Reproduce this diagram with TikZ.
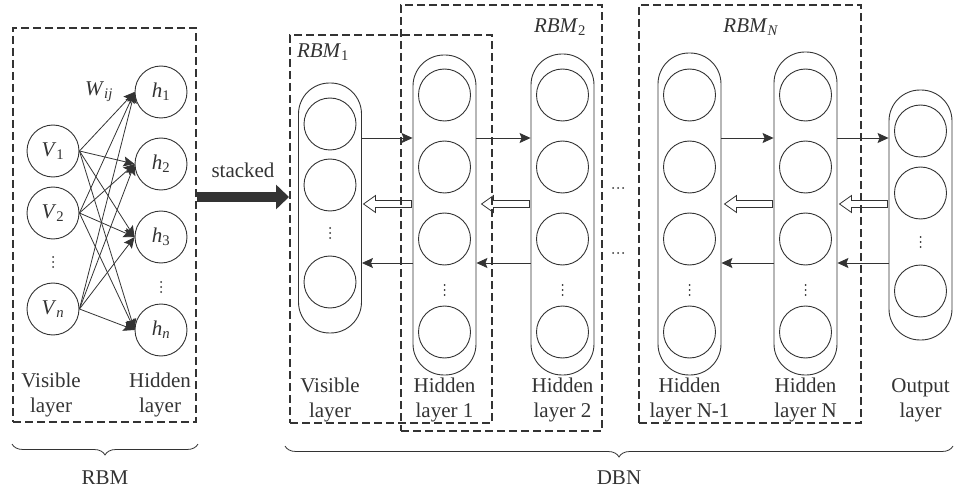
\documentclass[tikz,border=0pt]{standalone}
\usepackage{fontspec}
\setmainfont{Liberation Serif}
\usetikzlibrary{arrows.meta,decorations.pathreplacing}
\definecolor{ink}{HTML}{333333}
\newcommand\hollowfrom[1]{\draw[ink,line width=0.8pt] (#1) ++(-1,3.5) -- ++(-36,0) -- ++(0,5) -- ++(-12,-8.5) -- ++(12,-8.5) -- ++(0,5) -- ++(36,0) -- cycle;}
\newcommand\vdotsat[1]{\foreach \dd in {-5,0,5}{\fill[ink] (#1) ++(0,\dd) circle (1pt);}}
\newcommand\hdotsat[1]{\foreach \dd in {-5,0,5}{\fill[ink] (#1) ++(\dd,0) circle (1pt);}}
\begin{document}
\begin{tikzpicture}[x=1pt,y=-1pt,
  font=\fontsize{21}{25}\selectfont,
  neuron/.style={circle, draw=ink, line width=0.9pt, minimum size=52pt, inner sep=0pt, text=ink},
  pill/.style={draw=ink, line width=0.9pt, rounded corners=31pt, minimum width=63pt, inner sep=0pt},
  dbox/.style={draw=ink, line width=2pt, dash pattern=on 8pt off 4pt, inner sep=0pt},
  conn/.style={draw=ink, line width=0.8pt, -{Stealth[length=11pt,width=10pt,inset=2pt]}},
  lbl/.style={align=center, text=ink, inner sep=0pt},
  bracestyle/.style={draw=ink, line width=0.8pt, decorate, decoration={brace, mirror, amplitude=11pt}},
  stackarrow/.style={draw=ink, line width=10pt, -{Triangle[length=13pt,width=24pt]}}
]
\useasboundingbox (0,0) rectangle (954,492);

% ---------- RBM ----------
\node[dbox, minimum width=183pt, minimum height=394pt] (rbm) at (104.5,225) {};
\node[neuron] (V1) at (53,151) {\textit{V}\textsubscript{1}};
\node[neuron] (V2) at (53,213) {\textit{V}\textsubscript{2}};
\node[neuron] (Vn) at (53,309) {\textit{V}\textsubscript{\textit{n}}};
\coordinate (vd) at (53,262);
\vdotsat{vd}
\node[neuron] (h1) at (161,92) {\textit{h}\textsubscript{1}};
\node[neuron] (h2) at (161,164) {\textit{h}\textsubscript{2}};
\node[neuron] (h3) at (161,237) {\textit{h}\textsubscript{3}};
\node[neuron] (hn) at (161,330) {\textit{h}\textsubscript{\textit{n}}};
\coordinate (hd) at (161,287);
\vdotsat{hd}
\foreach \v in {V1,V2,Vn}{
  \foreach \h in {h1,h2,h3,hn}{
    \draw[conn] (\v.east) -- (\h.west);
  }
}
\node[lbl] (wij) at (99,92) {\textit{W}\textsubscript{\textit{ij}}};
\node[lbl] (rvis) at (51,395) {Visible\\layer};
\node[lbl] (rhid) at (160,395) {Hidden\\layer};

% ---------- stacked ----------
\coordinate (stk) at (0,197);
\node[lbl] (stacked) at (243,170) {stacked};

% ---------- DBN boxes ----------
\node[dbox, minimum width=202pt, minimum height=388pt] (rbm1) at (391,229) {};
\node[dbox, minimum width=201pt, minimum height=426pt] (rbm2) at (501.5,218) {};
\node[dbox, minimum width=222pt, minimum height=418pt] (rbmN) at (750,214) {};
\node[lbl] (l1) at (323,52) {\textit{RBM}\textsubscript{1}};
\node[lbl] (l2) at (560,27) {\textit{RBM}\textsubscript{2}};
\node[lbl] (lN) at (751,27) {\textit{RBM}\textsubscript{\textit{N}}};

\draw[stackarrow] (rbm.east |- stk) -- (rbm1.west |- stk);

% ---------- pills ----------
\node[pill, minimum height=250pt] (pv) at (330,208) {};
\node[pill, minimum height=320pt] (p1) at (444.5,215) {};
\node[pill, minimum height=321pt] (p2) at (562.5,214.5) {};
\node[pill, minimum height=322pt] (p3) at (689.5,214) {};
\node[pill, minimum height=323pt] (p4) at (805.5,213.5) {};
\node[pill, minimum height=250pt] (po) at (920.5,215) {};

% visible layer neurons
\node[neuron] (v1) at (330,124) {};
\node[neuron] (v2) at (330,185) {};
\node[neuron] (v3) at (330,282) {};
\coordinate (vdd) at (330,233);
\vdotsat{vdd}
% output neurons
\node[neuron] (o1) at (920.5,131) {};
\node[neuron] (o2) at (920.5,193) {};
\node[neuron] (o3) at (920.5,291) {};
\coordinate (odd) at (920.5,242);
\vdotsat{odd}
% hidden neurons
\foreach \p/\x in {a/444.5,b/562.5,c/689.5,d/805.5}{
  \node[neuron] (\p1) at (\x,95) {};
  \node[neuron] (\p2) at (\x,167) {};
  \node[neuron] (\p3) at (\x,239) {};
  \node[neuron] (\p4) at (\x,332) {};
  \coordinate (\p d) at (\x,290);
  \vdotsat{\p d}
}

% ---------- connectors ----------
\coordinate (fw) at (0,138);
\coordinate (bw) at (0,263);
\coordinate (ho) at (0,204);
\draw[conn] (pv.east |- fw) -- (p1.west |- fw);
\draw[conn] (p1.east |- fw) -- (p2.west |- fw);
\draw[conn] (p3.east |- fw) -- (p4.west |- fw);
\draw[conn] (p4.east |- fw) -- (po.west |- fw);
\draw[conn] (p1.west |- bw) -- (pv.east |- bw);
\draw[conn] (p2.west |- bw) -- (p1.east |- bw);
\draw[conn] (p4.west |- bw) -- (p3.east |- bw);
\draw[conn] (po.west |- bw) -- (p4.east |- bw);
\hollowfrom{p1.west |- ho}
\hollowfrom{p2.west |- ho}
\hollowfrom{p4.west |- ho}
\hollowfrom{po.west |- ho}

\coordinate (hd1) at (618,188);
\coordinate (hd2) at (618,253);
\hdotsat{hd1}
\hdotsat{hd2}

% ---------- layer labels ----------
\node[lbl] (tv) at (330,400) {Visible\\layer};
\node[lbl] (t1) at (444.5,400) {Hidden\\layer 1};
\node[lbl] (t2) at (562.5,400) {Hidden\\layer 2};
\node[lbl] (t3) at (689.5,400) {Hidden\\layer N-1};
\node[lbl] (t4) at (805.5,400) {Hidden\\layer N};
\node[lbl] (to) at (920.5,400) {Output\\layer};

% ---------- braces ----------
\coordinate (b1l) at (12,444);
\coordinate (b1r) at (198,444);
\coordinate (b2l) at (285,446);
\coordinate (b2r) at (953,446);
\draw[bracestyle] (b1l) -- (b1r);
\draw[bracestyle] (b2l) -- (b2r);
\node[lbl] (trbm) at (105,478) {RBM};
\node[lbl] (tdbn) at (619,478) {DBN};
\end{tikzpicture}
\end{document}
